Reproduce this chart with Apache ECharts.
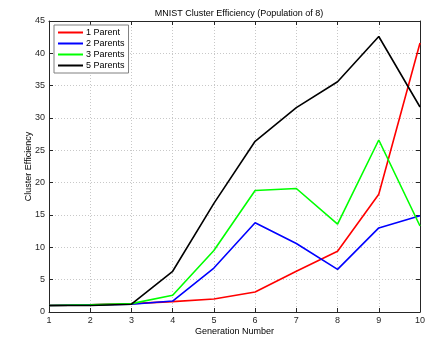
<!DOCTYPE html>
<html>
<head>
<meta charset="utf-8">
<script src="https://cdn.jsdelivr.net/npm/echarts@6/dist/echarts.min.js"></script>
<style>
  html, body { margin: 0; padding: 0; background: #fff; }
  #main { width: 434px; height: 338px; }
</style>
</head>
<body>
<div id="main"></div>
<script>
// generation numbers on the x axis
const generations = [1, 2, 3, 4, 5, 6, 7, 8, 9, 10];
// cluster efficiency per series
const parent1 = [1.0, 1.1, 1.3, 1.6, 2.0, 3.1, 6.3, 9.4, 18.2, 41.6];
const parents2 = [1.0, 1.1, 1.2, 1.7, 6.8, 13.8, 10.6, 6.6, 13.0, 14.9];
const parents3 = [1.0, 1.1, 1.3, 2.6, 9.5, 18.8, 19.1, 13.6, 26.6, 13.3];
const parents5 = [1.0, 1.0, 1.2, 6.3, 16.8, 26.4, 31.6, 35.6, 42.6, 31.7];
const seriesNames = ['1 Parent', '2 Parents', '3 Parents', '5 Parents'];
const seriesColors = ['#ff0000', '#0000ff', '#00ff00', '#000000'];
const allValues = [parent1, parents2, parents3, parents5];

const font = 'Liberation Sans, Arial, sans-serif';
const axisColor = '#262626';

const myChart = echarts.init(document.getElementById('main'));

const pairs = (ys) => generations.map((g, i) => [g, ys[i]]);

const gridLine = { show: true, lineStyle: { color: '#c8c8c8', type: [1, 2], width: 1 } };
const tick = { show: true, inside: true, length: 4, lineStyle: { color: axisColor } };
const line = { show: true, onZero: false, lineStyle: { color: axisColor, width: 1 } };

const option = {
  animation: false,
  backgroundColor: '#fff',
  title: {
    text: 'MNIST Cluster Efficiency (Population of 8)',
    left: 234,
    textAlign: 'center',
    top: 4,
    textStyle: { fontFamily: font, fontSize: 9, fontWeight: 'normal', color: '#000' }
  },
  legend: {
    orient: 'vertical',
    left: 54,
    top: 25,
    padding: [2, 4, 2, 4],
    itemGap: 0,
    itemWidth: 25,
    itemHeight: 2,
    icon: 'rect',
    backgroundColor: '#fff',
    borderColor: '#808080',
    borderWidth: 1,
    borderRadius: 0,
    textStyle: { fontFamily: font, fontSize: 9, color: '#000', lineHeight: 11, padding: [0, 0, 0, -2] },
    data: seriesNames
  },
  grid: { left: 49, right: 14, top: 21, bottom: 26, containLabel: false, outerBoundsMode: 'none' },
  xAxis: [{
    type: 'value',
    min: 1,
    max: 10,
    interval: 1,
    name: 'Generation Number',
    nameLocation: 'middle',
    nameGap: 15,
    nameMoveOverlap: false,
    nameTextStyle: { fontFamily: font, fontSize: 9, color: '#000' },
    axisLine: line,
    axisTick: tick,
    splitLine: gridLine,
    axisLabel: { fontFamily: font, fontSize: 9, color: axisColor, margin: 4 }
  }, {
    type: 'value',
    position: 'top',
    min: 1,
    max: 10,
    interval: 1,
    axisLine: line,
    axisTick: tick,
    splitLine: { show: false },
    axisLabel: { show: false }
  }],
  yAxis: [{
    type: 'value',
    min: 0,
    max: 45,
    interval: 5,
    name: 'Cluster Efficiency',
    nameLocation: 'middle',
    nameGap: 16,
    nameMoveOverlap: false,
    nameTextStyle: { fontFamily: font, fontSize: 9, color: '#000' },
    axisLine: line,
    axisTick: tick,
    splitLine: gridLine,
    axisLabel: { fontFamily: font, fontSize: 9, color: axisColor, margin: 4 }
  }, {
    type: 'value',
    position: 'right',
    min: 0,
    max: 45,
    interval: 5,
    axisLine: line,
    axisTick: tick,
    splitLine: { show: false },
    axisLabel: { show: false }
  }],
  series: allValues.map((vals, i) => ({
    name: seriesNames[i],
    type: 'line',
    data: pairs(vals),
    showSymbol: false,
    symbol: 'none',
    color: seriesColors[i],
    lineStyle: { width: 1.6, color: seriesColors[i] }
  }))
};

myChart.setOption(option);
</script>
</body>
</html>
